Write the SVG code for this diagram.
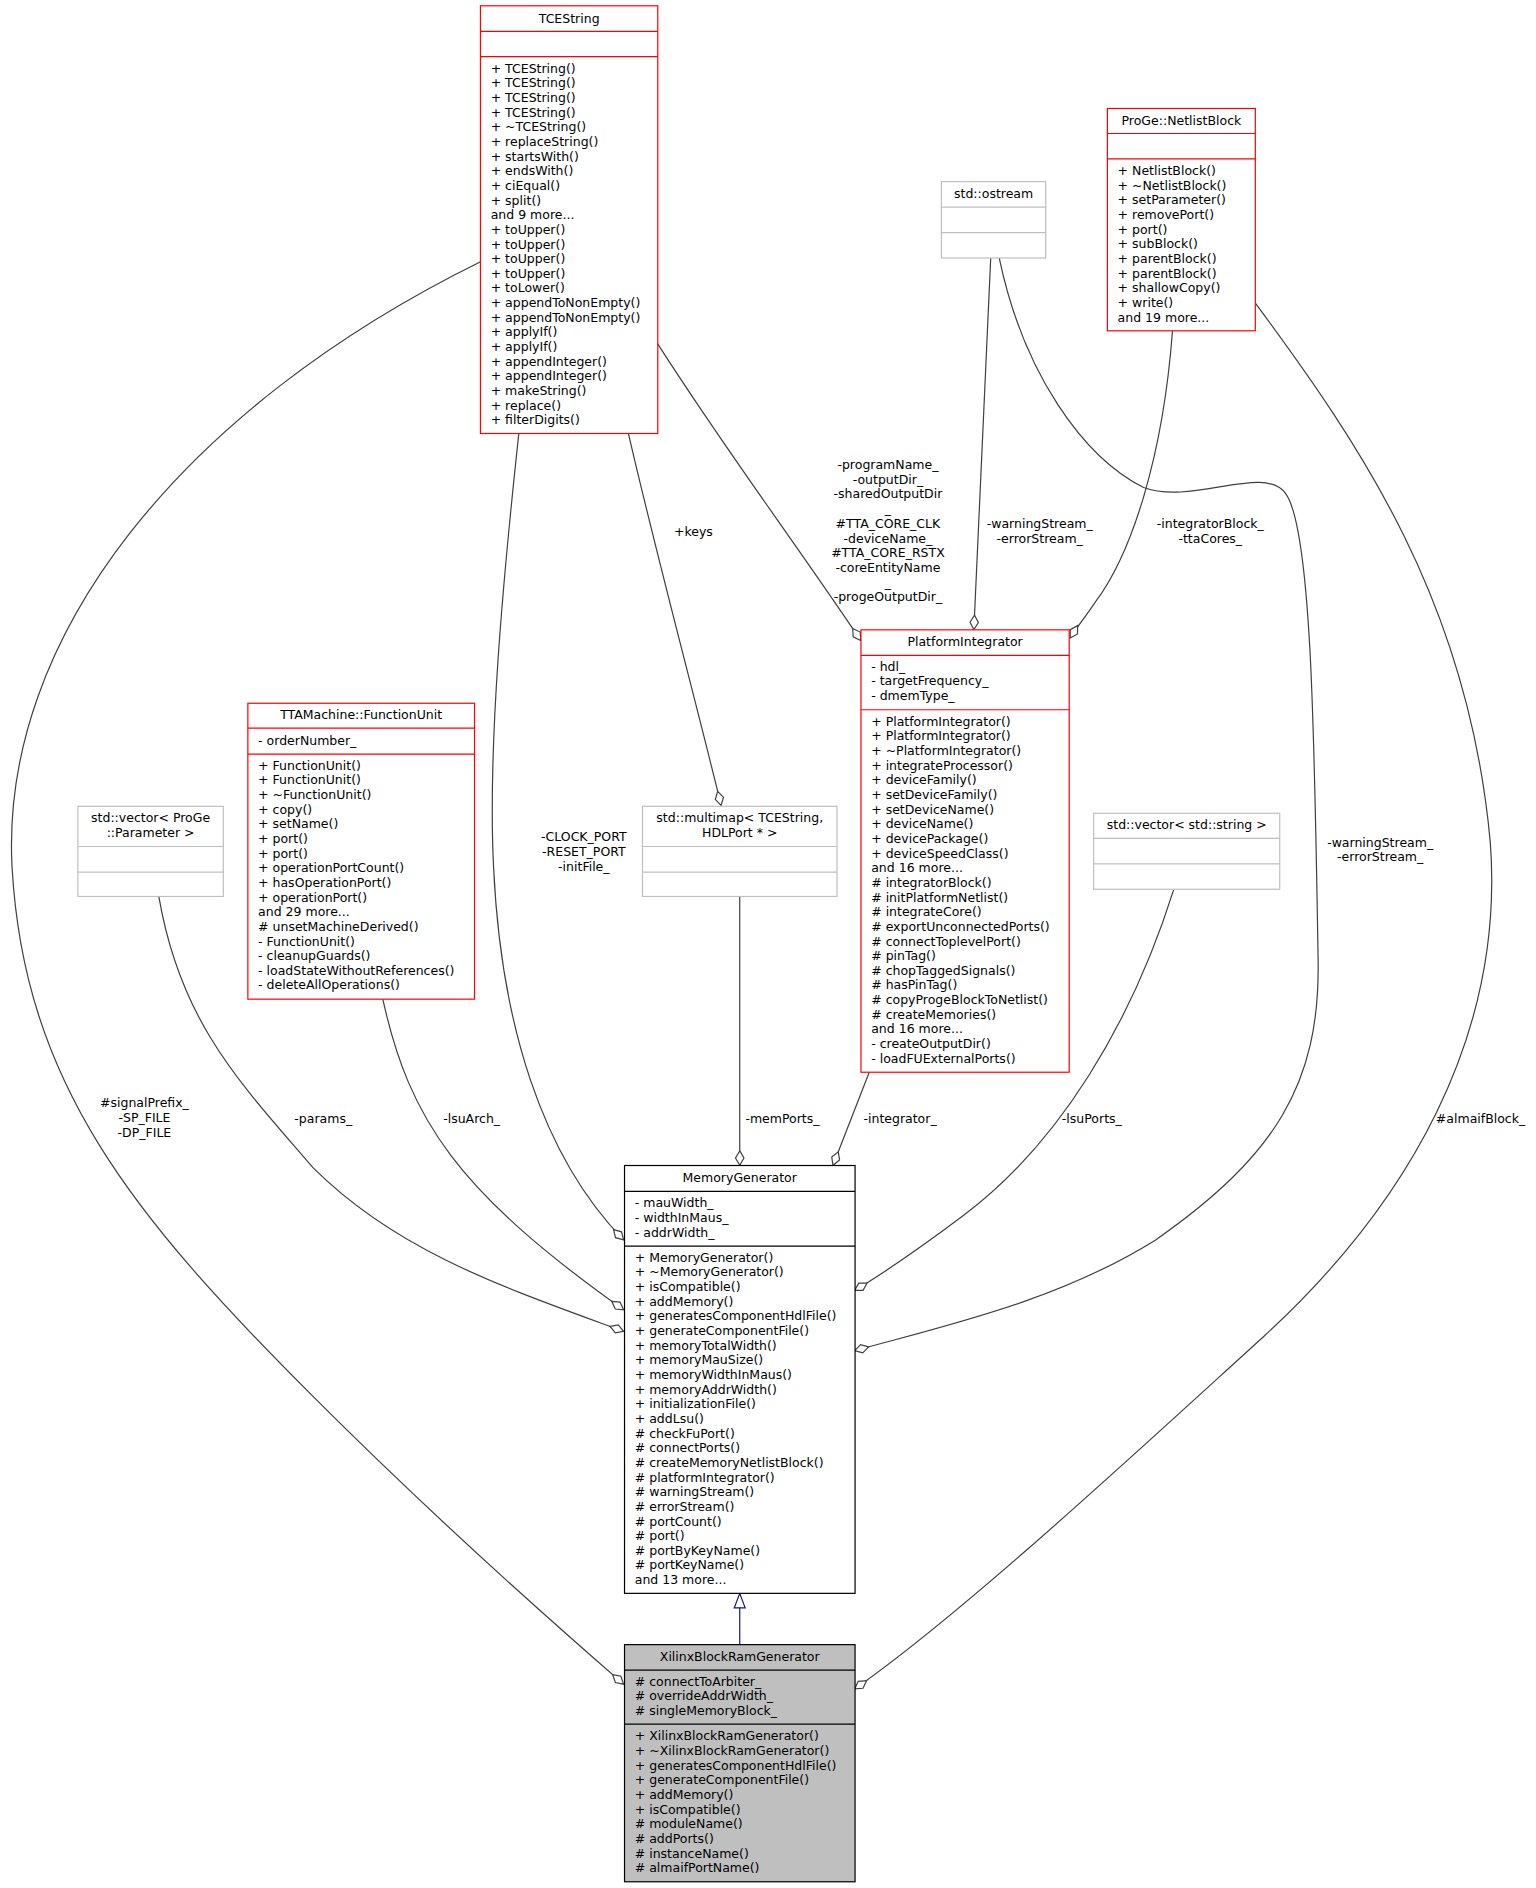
<svg xmlns="http://www.w3.org/2000/svg" width="1536" height="1888" viewBox="0 0 1536 1888">
<style>
text{font-family:"DejaVu Sans","Liberation Sans",sans-serif;font-size:10.4px;fill:#000}
.t{text-anchor:middle}
.red{fill:#fff;stroke:#ff0000;stroke-width:1}
.gray{fill:#fff;stroke:#bfbfbf;stroke-width:1}
.blk{fill:#fff;stroke:#000;stroke-width:1}
.cur{fill:#bfbfbf;stroke:#000;stroke-width:1}
.lr{stroke:#ff0000;stroke-width:1}
.lg{stroke:#bfbfbf;stroke-width:1}
.lb{stroke:#000;stroke-width:1}
.e{fill:none;stroke:#404040;stroke-width:1;marker-end:url(#dia)}
.lab{text-anchor:middle}
</style>
<defs>
<marker id="dia" markerUnits="userSpaceOnUse" markerWidth="14" markerHeight="10" refX="12" refY="4" orient="auto" overflow="visible">
<path d="M0,4 L6,0.5 L12,4 L6,7.5 Z" fill="#fff" stroke="#404040" stroke-width="1"/>
</marker>
<marker id="tri" markerUnits="userSpaceOnUse" markerWidth="12" markerHeight="12" refX="12" refY="4.5" orient="auto" overflow="visible">
<path d="M0,0 L12,4.5 L0,9 Z" fill="#fff" stroke="#191970" stroke-width="1"/>
</marker>
</defs>
<rect width="1536" height="1888" fill="#fff"/>
<g transform="scale(1.2038)">
<g id="edges">
<path class="e" d="M400,217 C150,340 0,530 10,720 C20,900 110,1010 260,1160 C350,1250 450,1340 518,1399"/>
<path class="e" d="M431,360 C418,480 405,620 410,720 C416,850 450,960 518,1030"/>
<path class="e" d="M522,360 C545,460 580,590 599,669"/>
<path class="e" d="M546,285 C600,370 660,450 715,532"/>
<path class="e" d="M823,214 L809,523"/>
<path class="e" d="M974,275 C966,380 940,460 910,500 C900,515 895,520 889,530"/>
<path class="e" d="M830,214 C850,310 900,380 950,405 C990,420 1050,385 1068,410 C1090,440 1092,620 1095,800 C1096,900 1060,960 960,1030 C880,1080 790,1100 710,1122"/>
<path class="e" d="M1043,252 C1130,370 1220,500 1238,700 C1250,860 1170,1000 1050,1110 C940,1210 800,1340 710,1403"/>
<path class="e" d="M132,745 C150,850 200,900 260,970 C330,1040 420,1070 518,1106"/>
<path class="e" d="M318,830 C340,930 380,990 518,1088"/>
<path class="e" d="M614.5,745 L614.5,968"/>
<path class="e" d="M722,891 L692,968"/>
<path class="e" d="M975,739 C940,850 880,950 800,1010 C760,1040 730,1060 710,1072"/>
<path d="M614.5,1366 L614.5,1323.6" fill="none" stroke="#191970" stroke-width="1" marker-end="url(#tri)"/>
<text class="lab" x="120" y="920">#signalPrefix_<tspan x="120" dy="12.17">-SP_FILE</tspan><tspan x="120" dy="12.17">-DP_FILE</tspan></text>
<text class="lab" x="485" y="699">-CLOCK_PORT<tspan x="485" dy="12.17">-RESET_PORT</tspan><tspan x="485" dy="12.17">-initFile_</tspan></text>
<text class="lab" x="576" y="445">+keys</text>
<text class="lab" x="737.6" y="389.7">-programName_<tspan x="737.6" dy="12.2">-outputDir_</tspan><tspan x="737.6" dy="12.2">-sharedOutputDir</tspan><tspan x="737.6" dy="12.2">_</tspan><tspan x="737.6" dy="12.2">#TTA_CORE_CLK</tspan><tspan x="737.6" dy="12.2">-deviceName_</tspan><tspan x="737.6" dy="12.2">#TTA_CORE_RSTX</tspan><tspan x="737.6" dy="12.2">-coreEntityName</tspan><tspan x="737.6" dy="12.2">_</tspan><tspan x="737.6" dy="12.2">-progeOutputDir_</tspan></text>
<text class="lab" x="863.7" y="438.7">-warningStream_<tspan x="863.7" dy="12.17">-errorStream_</tspan></text>
<text class="lab" x="1005.4" y="438.7">-integratorBlock_<tspan x="1005.4" dy="12.17">-ttaCores_</tspan></text>
<text class="lab" x="1146.5" y="703.4">-warningStream_<tspan x="1146.5" dy="12.17">-errorStream_</tspan></text>
<text class="lab" x="1229.9" y="932.6">#almaifBlock_</text>
<text class="lab" x="268.5" y="932.6">-params_</text>
<text class="lab" x="391.8" y="932.6">-lsuArch_</text>
<text class="lab" x="650" y="932.6">-memPorts_</text>
<text class="lab" x="747.7" y="932.6">-integrator_</text>
<text class="lab" x="907" y="932.6">-lsuPorts_</text>
</g>
<g id="TCEString">
<rect class="red" x="399.1" y="4.8" width="147.3" height="355.3"/>
<line class="lr" x1="399.1" y1="26" x2="546.4" y2="26"/>
<line class="lr" x1="399.1" y1="47.1" x2="546.4" y2="47.1"/>
<text class="t" x="472.8" y="19.1">TCEString</text>
<text x="407.6" y="60.4">+ TCEString()<tspan x="407.6" dy="12.17">+ TCEString()</tspan><tspan x="407.6" dy="12.17">+ TCEString()</tspan><tspan x="407.6" dy="12.17">+ TCEString()</tspan><tspan x="407.6" dy="12.17">+ ~TCEString()</tspan><tspan x="407.6" dy="12.17">+ replaceString()</tspan><tspan x="407.6" dy="12.17">+ startsWith()</tspan><tspan x="407.6" dy="12.17">+ endsWith()</tspan><tspan x="407.6" dy="12.17">+ ciEqual()</tspan><tspan x="407.6" dy="12.17">+ split()</tspan><tspan x="407.6" dy="12.17">and 9 more...</tspan><tspan x="407.6" dy="12.17">+ toUpper()</tspan><tspan x="407.6" dy="12.17">+ toUpper()</tspan><tspan x="407.6" dy="12.17">+ toUpper()</tspan><tspan x="407.6" dy="12.17">+ toUpper()</tspan><tspan x="407.6" dy="12.17">+ toLower()</tspan><tspan x="407.6" dy="12.17">+ appendToNonEmpty()</tspan><tspan x="407.6" dy="12.17">+ appendToNonEmpty()</tspan><tspan x="407.6" dy="12.17">+ applyIf()</tspan><tspan x="407.6" dy="12.17">+ applyIf()</tspan><tspan x="407.6" dy="12.17">+ appendInteger()</tspan><tspan x="407.6" dy="12.17">+ appendInteger()</tspan><tspan x="407.6" dy="12.17">+ makeString()</tspan><tspan x="407.6" dy="12.17">+ replace()</tspan><tspan x="407.6" dy="12.17">+ filterDigits()</tspan></text>
</g>
<g id="NetlistBlock">
<rect class="red" x="919.9" y="90.1" width="122.9" height="184.7"/>
<line class="lr" x1="919.9" y1="110.9" x2="1042.8" y2="110.9"/>
<line class="lr" x1="919.9" y1="132" x2="1042.8" y2="132"/>
<text class="t" x="981.4" y="104.2">ProGe::NetlistBlock</text>
<text x="928.4" y="145.4">+ NetlistBlock()<tspan x="928.4" dy="12.17">+ ~NetlistBlock()</tspan><tspan x="928.4" dy="12.17">+ setParameter()</tspan><tspan x="928.4" dy="12.17">+ removePort()</tspan><tspan x="928.4" dy="12.17">+ port()</tspan><tspan x="928.4" dy="12.17">+ subBlock()</tspan><tspan x="928.4" dy="12.17">+ parentBlock()</tspan><tspan x="928.4" dy="12.17">+ parentBlock()</tspan><tspan x="928.4" dy="12.17">+ shallowCopy()</tspan><tspan x="928.4" dy="12.17">+ write()</tspan><tspan x="928.4" dy="12.17">and 19 more...</tspan></text>
</g>
<g id="ostream">
<rect class="gray" x="782" y="150.9" width="86.7" height="63.4"/>
<line class="lg" x1="782" y1="172.1" x2="868.7" y2="172.1"/>
<line class="lg" x1="782" y1="193.2" x2="868.7" y2="193.2"/>
<text class="t" x="825.4" y="164.3">std::ostream</text>
</g>
<g id="PlatformIntegrator">
<rect class="red" x="715.2" y="523.2" width="173" height="367.5"/>
<line class="lr" x1="715.2" y1="544.4" x2="888.2" y2="544.4"/>
<line class="lr" x1="715.2" y1="589.6" x2="888.2" y2="589.6"/>
<text class="t" x="801.7" y="536.5">PlatformIntegrator</text>
<text x="723.7" y="557">- hdl_<tspan x="723.7" dy="12.4">- targetFrequency_</tspan><tspan x="723.7" dy="12.4">- dmemType_</tspan></text>
<text x="723.7" y="602.9">+ PlatformIntegrator()<tspan x="723.7" dy="12.17">+ PlatformIntegrator()</tspan><tspan x="723.7" dy="12.17">+ ~PlatformIntegrator()</tspan><tspan x="723.7" dy="12.17">+ integrateProcessor()</tspan><tspan x="723.7" dy="12.17">+ deviceFamily()</tspan><tspan x="723.7" dy="12.17">+ setDeviceFamily()</tspan><tspan x="723.7" dy="12.17">+ setDeviceName()</tspan><tspan x="723.7" dy="12.17">+ deviceName()</tspan><tspan x="723.7" dy="12.17">+ devicePackage()</tspan><tspan x="723.7" dy="12.17">+ deviceSpeedClass()</tspan><tspan x="723.7" dy="12.17">and 16 more...</tspan><tspan x="723.7" dy="12.17"># integratorBlock()</tspan><tspan x="723.7" dy="12.17"># initPlatformNetlist()</tspan><tspan x="723.7" dy="12.17"># integrateCore()</tspan><tspan x="723.7" dy="12.17"># exportUnconnectedPorts()</tspan><tspan x="723.7" dy="12.17"># connectToplevelPort()</tspan><tspan x="723.7" dy="12.17"># pinTag()</tspan><tspan x="723.7" dy="12.17"># chopTaggedSignals()</tspan><tspan x="723.7" dy="12.17"># hasPinTag()</tspan><tspan x="723.7" dy="12.17"># copyProgeBlockToNetlist()</tspan><tspan x="723.7" dy="12.17"># createMemories()</tspan><tspan x="723.7" dy="12.17">and 16 more...</tspan><tspan x="723.7" dy="12.17">- createOutputDir()</tspan><tspan x="723.7" dy="12.17">- loadFUExternalPorts()</tspan></text>
</g>
<g id="VectorString">
<rect class="gray" x="908.5" y="675.6" width="154.6" height="63.1"/>
<line class="lg" x1="908.5" y1="696.4" x2="1063.1" y2="696.4"/>
<line class="lg" x1="908.5" y1="717.6" x2="1063.1" y2="717.6"/>
<text class="t" x="985.8" y="688.6">std::vector&lt; std::string &gt;</text>
</g>
<g id="Multimap">
<rect class="gray" x="533.7" y="669.8" width="161.6" height="74.9"/>
<line class="lg" x1="533.7" y1="703.2" x2="695.3" y2="703.2"/>
<line class="lg" x1="533.7" y1="724.4" x2="695.3" y2="724.4"/>
<text class="t" x="614.5" y="682.8">std::multimap&lt; TCEString,<tspan x="614.5" dy="12.2">HDLPort * &gt;</tspan></text>
</g>
<g id="VectorParameter">
<rect class="gray" x="64.7" y="669.8" width="120.8" height="74.9"/>
<line class="lg" x1="64.7" y1="703.2" x2="185.5" y2="703.2"/>
<line class="lg" x1="64.7" y1="724.4" x2="185.5" y2="724.4"/>
<text class="t" x="125.1" y="682.8">std::vector&lt; ProGe<tspan x="125.1" dy="12.2">::Parameter &gt;</tspan></text>
</g>
<g id="FunctionUnit">
<rect class="red" x="205.9" y="584.2" width="188.3" height="245.8"/>
<line class="lr" x1="205.9" y1="604.9" x2="394.2" y2="604.9"/>
<line class="lr" x1="205.9" y1="626.4" x2="394.2" y2="626.4"/>
<text class="t" x="300" y="597.2">TTAMachine::FunctionUnit</text>
<text x="214.4" y="618.7">- orderNumber_</text>
<text x="214.4" y="639.4">+ FunctionUnit()<tspan x="214.4" dy="12.17">+ FunctionUnit()</tspan><tspan x="214.4" dy="12.17">+ ~FunctionUnit()</tspan><tspan x="214.4" dy="12.17">+ copy()</tspan><tspan x="214.4" dy="12.17">+ setName()</tspan><tspan x="214.4" dy="12.17">+ port()</tspan><tspan x="214.4" dy="12.17">+ port()</tspan><tspan x="214.4" dy="12.17">+ operationPortCount()</tspan><tspan x="214.4" dy="12.17">+ hasOperationPort()</tspan><tspan x="214.4" dy="12.17">+ operationPort()</tspan><tspan x="214.4" dy="12.17">and 29 more...</tspan><tspan x="214.4" dy="12.17"># unsetMachineDerived()</tspan><tspan x="214.4" dy="12.17">- FunctionUnit()</tspan><tspan x="214.4" dy="12.17">- cleanupGuards()</tspan><tspan x="214.4" dy="12.17">- loadStateWithoutReferences()</tspan><tspan x="214.4" dy="12.17">- deleteAllOperations()</tspan></text>
</g>
<g id="MemoryGenerator">
<rect class="blk" x="518.8" y="968.2" width="191.5" height="355.4"/>
<line class="lb" x1="518.8" y1="989.7" x2="710.3" y2="989.7"/>
<line class="lb" x1="518.8" y1="1035.1" x2="710.3" y2="1035.1"/>
<text class="t" x="614.5" y="981.7">MemoryGenerator</text>
<text x="527.3" y="1002.4">- mauWidth_<tspan x="527.3" dy="12.5">- widthInMaus_</tspan><tspan x="527.3" dy="12.5">- addrWidth_</tspan></text>
<text x="527.3" y="1048.2">+ MemoryGenerator()<tspan x="527.3" dy="12.17">+ ~MemoryGenerator()</tspan><tspan x="527.3" dy="12.17">+ isCompatible()</tspan><tspan x="527.3" dy="12.17">+ addMemory()</tspan><tspan x="527.3" dy="12.17">+ generatesComponentHdlFile()</tspan><tspan x="527.3" dy="12.17">+ generateComponentFile()</tspan><tspan x="527.3" dy="12.17">+ memoryTotalWidth()</tspan><tspan x="527.3" dy="12.17">+ memoryMauSize()</tspan><tspan x="527.3" dy="12.17">+ memoryWidthInMaus()</tspan><tspan x="527.3" dy="12.17">+ memoryAddrWidth()</tspan><tspan x="527.3" dy="12.17">+ initializationFile()</tspan><tspan x="527.3" dy="12.17">+ addLsu()</tspan><tspan x="527.3" dy="12.17"># checkFuPort()</tspan><tspan x="527.3" dy="12.17"># connectPorts()</tspan><tspan x="527.3" dy="12.17"># createMemoryNetlistBlock()</tspan><tspan x="527.3" dy="12.17"># platformIntegrator()</tspan><tspan x="527.3" dy="12.17"># warningStream()</tspan><tspan x="527.3" dy="12.17"># errorStream()</tspan><tspan x="527.3" dy="12.17"># portCount()</tspan><tspan x="527.3" dy="12.17"># port()</tspan><tspan x="527.3" dy="12.17"># portByKeyName()</tspan><tspan x="527.3" dy="12.17"># portKeyName()</tspan><tspan x="527.3" dy="12.17">and 13 more...</tspan></text>
</g>
<g id="XilinxBlockRamGenerator">
<rect class="cur" x="518.8" y="1366.2" width="191.5" height="197"/>
<line class="lb" x1="518.8" y1="1387.3" x2="710.3" y2="1387.3"/>
<line class="lb" x1="518.8" y1="1432.2" x2="710.3" y2="1432.2"/>
<text class="t" x="614.5" y="1379.6">XilinxBlockRamGenerator</text>
<text x="527.3" y="1400.4"># connectToArbiter_<tspan x="527.3" dy="12.17"># overrideAddrWidth_</tspan><tspan x="527.3" dy="12.17"># singleMemoryBlock_</tspan></text>
<text x="527.3" y="1445.7">+ XilinxBlockRamGenerator()<tspan x="527.3" dy="12.17">+ ~XilinxBlockRamGenerator()</tspan><tspan x="527.3" dy="12.17">+ generatesComponentHdlFile()</tspan><tspan x="527.3" dy="12.17">+ generateComponentFile()</tspan><tspan x="527.3" dy="12.17">+ addMemory()</tspan><tspan x="527.3" dy="12.17">+ isCompatible()</tspan><tspan x="527.3" dy="12.17"># moduleName()</tspan><tspan x="527.3" dy="12.17"># addPorts()</tspan><tspan x="527.3" dy="12.17"># instanceName()</tspan><tspan x="527.3" dy="12.17"># almaifPortName()</tspan></text>
</g>
</g>
</svg>
